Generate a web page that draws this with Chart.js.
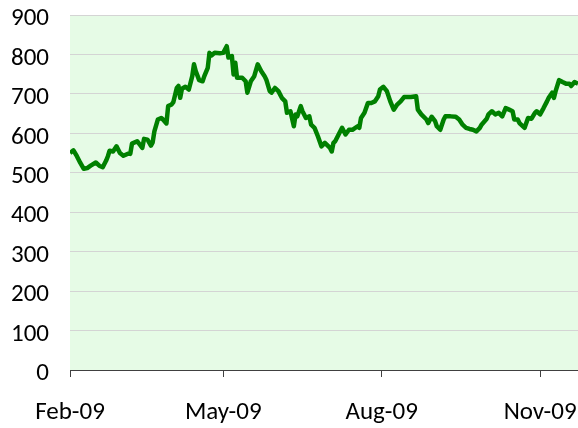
<!DOCTYPE html>
<html>
<head>
<meta charset="utf-8">
<script src="https://cdn.jsdelivr.net/npm/chart.js@4"></script>
<style>
  body { margin: 0; background: #fff; overflow: hidden; }
</style>
</head>
<body>
<canvas id="priceChart" width="578" height="428"></canvas>
<script>
// Days counted from 1 Feb 2009
const days = [
  0, 2, 4, 6, 8, 10, 12, 15, 17, 19, 21, 22, 23, 25, 27, 29, 31, 34, 35, 36,
  39, 41, 42, 43, 45, 47, 48, 49, 51, 53, 54, 56, 57, 59, 60, 62, 63, 64, 65, 67,
  69, 71, 72, 73, 75, 77, 78, 80, 81, 82, 84, 87, 89, 91, 92, 94, 95, 96, 97,
  100, 102, 103, 105, 107, 109, 111, 113, 114, 116, 117, 119, 121, 123, 125, 126, 128, 130, 131, 132,
  134, 135, 137, 139, 140, 142, 144, 146, 148, 151, 152, 153, 154, 156, 158, 160, 162, 164, 167, 168,
  169, 171, 173, 175, 177, 179, 180, 182, 184, 186, 188, 190, 192, 194, 196,
  198, 201, 202, 204, 207, 208, 210, 212, 213, 215, 217, 218, 221, 224, 226, 228, 230, 232, 234, 236,
  238, 239, 242, 243, 245, 247, 249, 251, 253, 255, 257, 258, 260, 261, 264, 266, 268, 270, 271, 273,
  275, 277, 278, 280, 281, 282, 284, 286, 288, 290, 291, 293, 295
];

const prices = [
  550, 557, 542, 525, 510, 512, 518, 526, 518, 514, 531, 542, 556, 554, 567, 550, 543, 549, 548, 574,
  580, 569, 563, 586, 584, 569, 577, 605, 635, 639, 635, 625, 669, 673, 679, 715, 720, 690, 713, 718,
  711, 745, 775, 758, 735, 732, 745, 766, 804, 797, 804, 803, 804, 821, 792, 796, 749, 779, 741,
  741, 732, 703, 732, 745, 775, 758, 745, 736, 707, 703, 715, 707, 690, 681, 652, 656, 618, 648, 643,
  669, 656, 639, 643, 622, 614, 592, 567, 576, 563, 554, 576, 580, 597, 614, 597, 609, 609, 618, 614,
  639, 652, 677, 677, 681, 694, 711, 718, 707, 681, 660, 673, 681, 692, 692,
  692, 694, 660, 648, 635, 626, 642, 631, 618, 609, 635, 643, 643, 642, 635, 622, 614, 611, 609, 605,
  614, 622, 637, 648, 656, 648, 652, 643, 664, 660, 656, 635, 635, 626, 614, 639, 637, 652, 656, 648,
  664, 681, 690, 703, 690, 707, 735, 730, 726, 726, 720, 730, 726
];

// x axis ticks (1 Feb, 1 May, 1 Aug, 1 Nov)
const tickDays = [0, 89, 181, 273];
const tickLabels = ["Feb-09", "May-09", "Aug-09", "Nov-09"];

const yMax = 900;
const yStep = 100;

// Fill the plot area light green
const plotBackground = {
  id: "plotBackground",
  beforeDraw(chart) {
    const { ctx, chartArea: a } = chart;
    ctx.save();
    ctx.fillStyle = "#e6fbe6";
    ctx.fillRect(a.left, a.top, a.right - a.left, a.bottom - a.top);
    ctx.restore();
  }
};

const font = { family: "Carlito, Lato, sans-serif", size: 25 };

new Chart(document.getElementById("priceChart"), {
  type: "line",
  data: {
    datasets: [{
      data: days.map((d, i) => ({ x: d, y: prices[i] })),
      borderColor: "#008000",
      borderWidth: 4.5,
      borderJoinStyle: "round",
      pointRadius: 0,
      tension: 0,
      fill: false
    }]
  },
  options: {
    responsive: false,
    animation: false,
    layout: { padding: { left: 9, top: 15, right: 0, bottom: 0 } },
    plugins: {
      legend: { display: false },
      tooltip: { enabled: false }
    },
    scales: {
      x: {
        type: "linear",
        min: 0,
        max: 295,
        afterBuildTicks: axis => {
          axis.ticks = tickDays.map(v => ({ value: v }));
        },
        // keep the plot wide, the last label may touch the edge
        afterFit: axis => {
          axis.height = 58;
          axis.paddingLeft = 0;
          axis.paddingRight = 0;
        },
        grid: {
          drawOnChartArea: false,
          drawTicks: true,
          tickLength: 7,
          color: "#404040"
        },
        border: { display: true, color: "#404040", width: 1 },
        ticks: {
          autoSkip: false,
          maxRotation: 0,
          padding: 21,
          color: "#000",
          font,
          callback: v => tickLabels[tickDays.indexOf(v)] ?? ""
        }
      },
      y: {
        min: 0,
        max: yMax,
        afterFit: axis => {
          axis.width = 61;
          axis.paddingTop = 0;
          axis.paddingBottom = 0;
        },
        ticks: {
          stepSize: yStep,
          padding: 21,
          labelOffset: 4,
          color: "#000",
          font
        },
        grid: { color: "#d4d4d4", drawTicks: false },
        border: { display: false }
      }
    }
  },
  plugins: [plotBackground]
});
</script>
</body>
</html>
